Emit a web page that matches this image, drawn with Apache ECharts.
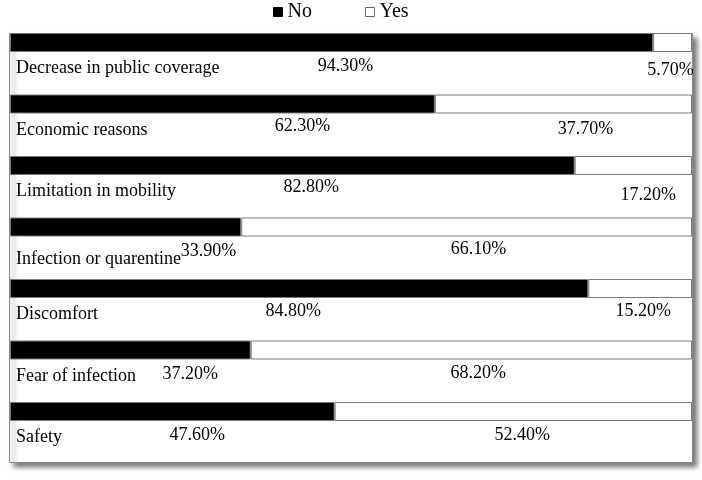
<!DOCTYPE html>
<html>
<head>
<meta charset="utf-8">
<script src="https://cdn.jsdelivr.net/npm/echarts@6/dist/echarts.min.js"></script>
<style>html,body{margin:0;padding:0;background:#fff;}#c{width:702px;height:480px;}</style>
</head>
<body>
<div id="c"></div>
<script>
const categories = ['Decrease in public coverage','Economic reasons','Limitation in mobility','Infection or quarentine','Discomfort','Fear of infection','Safety'];
const noValues = [94.3, 62.3, 82.8, 33.9, 84.8, 37.2, 47.6];
const yesValues = [5.7, 37.7, 17.2, 66.1, 15.2, 68.2, 52.4];
// label nudges (px) to mimic the manual label placement in the source figure
const noLabelShift = [[14,0],[80,-1],[19,-2],[83,1],[-6,-1],[60,1],[25,0]];
const yesLabelShift = [[-2,4],[22,2],[15,6],[12,-1],[3,-1],[7,0],[9,0]];
const loweredCategory = 'Infection or quarentine';

const font = 'Liberation Serif';
const noShare = noValues.map((v,i)=> v/(v+yesValues[i])*100);
const yesShare = yesValues.map((v,i)=> v/(noValues[i]+v)*100);
const fmt = v => v.toFixed(2) + '%';

const chart = echarts.init(document.getElementById('c'));
chart.setOption({
  animation: false,
  backgroundColor: '#fff',
  textStyle: {fontFamily: font},
  graphic: [{
    type: 'rect', z: -10, silent: true,
    shape: {x: 9.5, y: 33.5, width: 683, height: 429},
    style: {fill: '#fff', stroke: '#8a8a8a', lineWidth: 1,
      shadowBlur: 5, shadowOffsetX: 4, shadowOffsetY: 4, shadowColor: 'rgba(0,0,0,0.55)'}
  }],
  legend: {
    top: 2, left: 273, padding: 0, itemWidth: 9, itemHeight: 9, itemGap: 53,
    icon: 'rect',
    textStyle: {fontFamily: font, fontSize: 20, color: '#000'},
    data: [
      {name: 'No', itemStyle: {color: '#000', borderColor: '#000', borderWidth: 1}},
      {name: 'Yes', itemStyle: {color: '#fff', borderColor: '#666', borderWidth: 1}}
    ]
  },
  grid: {left: 10, right: 10, top: 11.75, bottom: 37.75, containLabel: false},
  xAxis: {type: 'value', min: 0, max: 100, show: false},
  yAxis: {
    type: 'category', inverse: true, data: categories,
    axisLine: {show: false}, axisTick: {show: false}, splitLine: {show: false},
    axisLabel: {
      interval: 0, inside: true, margin: 6, color: '#000', fontFamily: font, fontSize: 18,
      verticalAlign: 'top', padding: [17, 0, 0, 0],
      formatter: v => v === loweredCategory ? '{low|' + v + '}' : '{n|' + v + '}',
      rich: {
        n: {fontFamily: font, fontSize: 18, color: '#000'},
        low: {fontFamily: font, fontSize: 18, color: '#000', padding: [6, 0, 0, 0]}
      }
    }
  },
  series: [
    {
      name: 'No', type: 'bar', stack: 'all', barWidth: 19,
      itemStyle: {color: '#000', borderColor: '#7a7a7a', borderWidth: 1},
      label: {show: true, position: 'bottom', distance: 5, color: '#000', fontFamily: font, fontSize: 18,
        formatter: p => fmt(noValues[p.dataIndex])},
      data: noShare.map((v,i)=>({value: v, label: {offset: noLabelShift[i]}}))
    },
    {
      name: 'Yes', type: 'bar', stack: 'all', barWidth: 19,
      itemStyle: {color: '#fff', borderColor: '#7a7a7a', borderWidth: 1},
      label: {show: true, position: 'bottom', distance: 5, color: '#000', fontFamily: font, fontSize: 18,
        formatter: p => fmt(yesValues[p.dataIndex])},
      data: yesShare.map((v,i)=>({value: v, label: {offset: yesLabelShift[i]}}))
    }
  ]
});
</script>
</body>
</html>
